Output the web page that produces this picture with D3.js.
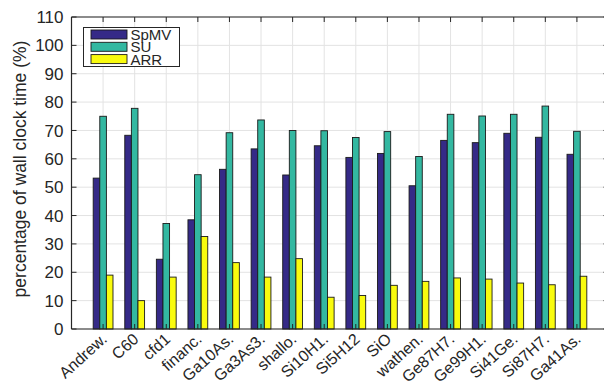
<!DOCTYPE html>
<html><head><meta charset="utf-8">
<script src="https://cdn.jsdelivr.net/npm/d3@7"></script>
<style>body{margin:0;background:#fff}svg{display:block}text{font-family:"Liberation Sans",Arial,sans-serif}</style>
</head><body><svg id="c" width="604" height="381"></svg>
<script>
const categories = ["Andrew.","C60","cfd1","financ.","Ga10As.","Ga3As3.","shallo.","Si10H1.","Si5H12","SiO","wathen.","Ge87H7.","Ge99H1.","Si41Ge.","Si87H7.","Ga41As."];
const seriesNames = ["SpMV","SU","ARR"];
const spmv = [53.2,68.3,24.6,38.5,56.3,63.5,54.3,64.6,60.5,61.9,50.5,66.5,65.7,69.0,67.6,61.6];
const su   = [75.0,77.8,37.2,54.4,69.2,73.7,70.0,69.9,67.5,69.6,60.8,75.7,75.1,75.7,78.6,69.7];
const arr  = [19.0,10.0,18.3,32.6,23.4,18.3,24.8,11.2,11.8,15.4,16.8,18.0,17.6,16.2,15.6,18.6];
const yTicks = [0,10,20,30,40,50,60,70,80,90,100,110];
const colors = ["#352a87","#33b8a1","#f9fb0e"];
const series = [spmv, su, arr];

const svg = d3.select("#c");
const L = 71.5, R = 608.5, T = 17, B = 329;
const x = d3.scaleLinear().domain([0,17]).range([L,R]);
const y = d3.scaleLinear().domain([0,110]).range([B,T]);
const bw = 6.6;

// grid
const g = svg.append("g");
g.selectAll(".gy").data(yTicks).enter().append("line")
  .attr("x1",L).attr("x2",R).attr("y1",d=>y(d)).attr("y2",d=>y(d))
  .attr("stroke","#e3e3e3").attr("stroke-width",1);
g.selectAll(".gx").data(categories).enter().append("line")
  .attr("x1",(d,i)=>x(i+1)).attr("x2",(d,i)=>x(i+1)).attr("y1",T).attr("y2",B)
  .attr("stroke","#e3e3e3").attr("stroke-width",1);

// bars
series.forEach((s,k)=>{
  svg.append("g").selectAll("rect").data(s).enter().append("rect")
    .attr("x",(d,i)=>x(i+1)+(k-1.5)*bw)
    .attr("width",bw)
    .attr("y",d=>y(d))
    .attr("height",d=>B-y(d))
    .attr("fill",colors[k])
    .attr("stroke","#1a1a1a").attr("stroke-width",0.9);
});

// axes
const ax = "#262626";
svg.append("line").attr("x1",L).attr("x2",R).attr("y1",B).attr("y2",B).attr("stroke",ax).attr("stroke-width",1.2);
svg.append("line").attr("x1",L).attr("x2",R).attr("y1",T).attr("y2",T).attr("stroke",ax).attr("stroke-width",1.2);
svg.append("line").attr("x1",L).attr("x2",L).attr("y1",T).attr("y2",B).attr("stroke",ax).attr("stroke-width",1.2);
svg.append("line").attr("x1",R).attr("x2",R).attr("y1",T).attr("y2",B).attr("stroke",ax).attr("stroke-width",1.2);
// y ticks
yTicks.forEach(t=>{
  svg.append("line").attr("x1",L).attr("x2",L+5).attr("y1",y(t)).attr("y2",y(t)).attr("stroke",ax);
  svg.append("line").attr("x1",R-5).attr("x2",R).attr("y1",y(t)).attr("y2",y(t)).attr("stroke",ax);
  svg.append("text").attr("x",L-8).attr("y",y(t)).attr("dy","0.36em").attr("text-anchor","end")
    .attr("font-size",17).attr("fill","#262626").text(t);
});
// x ticks
categories.forEach((c,i)=>{
  const px = x(i+1);
  svg.append("line").attr("x1",px).attr("x2",px).attr("y1",B).attr("y2",B-5).attr("stroke",ax);
  svg.append("line").attr("x1",px).attr("x2",px).attr("y1",T).attr("y2",T+5).attr("stroke",ax);
  svg.append("text").attr("transform",`translate(${px+5},340.5) rotate(-42)`)
    .attr("text-anchor","end").attr("font-size",16).attr("fill","#262626").text(c);
});
// y label
svg.append("text").attr("transform",`translate(20,169) rotate(-90)`)
  .attr("text-anchor","middle").attr("dy","0.35em").attr("font-size",17.5).attr("fill","#262626")
  .text("percentage of wall clock time (%)");

// legend
const lg = svg.append("g");
lg.append("rect").attr("x",83.5).attr("y",27.5).attr("width",96).attr("height",39)
  .attr("fill","#fff").attr("stroke","#262626").attr("stroke-width",1);
seriesNames.forEach((n,k)=>{
  const cy = 34.5 + k*12.3;
  lg.append("rect").attr("x",91).attr("y",cy-4.5).attr("width",36).attr("height",9)
    .attr("fill",colors[k]).attr("stroke","#1a1a1a").attr("stroke-width",0.9);
  lg.append("text").attr("x",130.5).attr("y",cy).attr("dy","0.36em").attr("font-size",15)
    .attr("fill","#262626").text(n);
});
</script></body></html>
